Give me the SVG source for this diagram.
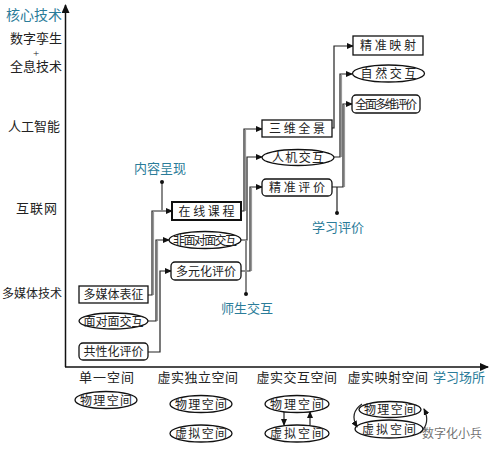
<svg xmlns="http://www.w3.org/2000/svg" width="490" height="455" viewBox="0 0 490 455">
<style>
text{font-family:"Liberation Serif","Noto Sans CJK SC",sans-serif;fill:#222}
.n{font-size:12px;text-anchor:middle}
.ax{font-size:13px;text-anchor:middle}
.lv{font-size:13px;text-anchor:end}
.tl{fill:#2b7c99;font-size:13px;text-anchor:middle}
.box{fill:#fff;stroke:#111;stroke-width:1.3}
.conn{fill:none;stroke:#222;stroke-width:1.2}
.sh{fill:none;stroke:#999;stroke-width:1.2}
.ann{fill:none;stroke:#888;stroke-width:2}
</style>
<defs>
<marker id="ar" markerWidth="7" markerHeight="6" refX="6" refY="3" orient="auto" markerUnits="userSpaceOnUse">
<path d="M0,0 L7,3 L0,6 Z" fill="#111"/>
</marker>
<marker id="ax" markerWidth="9" markerHeight="8" refX="8" refY="4" orient="auto" markerUnits="userSpaceOnUse">
<path d="M0,0 L9,4 L0,8 Z" fill="#111"/>
</marker>
</defs>

<g id="axes">
<path d="M65.5 367 V5" stroke="#111" stroke-width="1.5" fill="none" marker-end="url(#ax)"/>
<path d="M65 367 H488" stroke="#111" stroke-width="1.5" fill="none" marker-end="url(#ax)"/>
<text x="62" y="20" class="lv" style="fill:#2b7c99;font-size:14px">核心技术</text>
<text x="62" y="43" class="lv">数字孪生</text>
<text x="36" y="57" class="ax" style="font-size:11px">+</text>
<text x="62" y="71" class="lv">全息技术</text>
<text x="60" y="131" class="lv">人工智能</text>
<text x="58" y="213" class="lv" letter-spacing="1">互联网</text>
<text x="62" y="298" class="lv" style="font-size:12px">多媒体技术</text>
<text x="107" y="382" class="ax" letter-spacing="1">单一空间</text>
<text x="198" y="382" class="ax" letter-spacing="0.5">虚实独立空间</text>
<text x="297" y="382" class="ax" letter-spacing="0.5">虚实交互空间</text>
<text x="388" y="382" class="ax" letter-spacing="0.5">虚实映射空间</text>
<text x="459" y="382" class="tl">学习场所</text>
</g>

<g id="connectors">
<path class="sh" d="M153.5 295 V212"/>
<path class="conn" d="M148 295 H152 V211 H172" marker-end="url(#ar)"/>
<path class="sh" d="M157.5 321 V241"/>
<path class="conn" d="M148 321 H156 V240 H169" marker-end="url(#ar)"/>
<path class="conn" d="M148 352 H160 V271 H171" marker-end="url(#ar)"/>
<path class="sh" d="M245.5 211 V130"/>
<path class="conn" d="M241 211 H244 V129 H262" marker-end="url(#ar)"/>
<path class="conn" d="M241 240 H247 V157 H262" marker-end="url(#ar)"/>
<path class="sh" d="M251.5 271 V188"/>
<path class="conn" d="M241 271 H250 V187 H262" marker-end="url(#ar)"/>
<path class="conn" d="M332 128 H334 V46 H353" marker-end="url(#ar)"/>
<path class="sh" d="M341.5 157 V75"/>
<path class="conn" d="M334 157 H340 V74 H352" marker-end="url(#ar)"/>
<path class="sh" d="M344.5 187 V105"/>
<path class="conn" d="M332 187 H343 V104 H352" marker-end="url(#ar)"/>
<path class="ann" d="M162 182 V211"/>
<circle cx="162" cy="182" r="2" fill="#111"/>
<path class="ann" d="M246 241 V294"/>
<circle cx="246" cy="294" r="2" fill="#111"/>
<path class="conn" d="M337 187 V213"/>
<circle cx="337" cy="213" r="2" fill="#111"/>
<path class="conn" d="M284 412 V425" marker-end="url(#ar)"/>
<path class="conn" d="M310 425 V412" marker-end="url(#ar)"/>
<path class="conn" d="M362 404 Q349 413 357 427" marker-end="url(#ar)"/>
<path class="conn" d="M420 433 Q431 423 424 409" marker-end="url(#ar)"/>
</g>

<g id="labels">
<text x="160" y="173" class="tl">内容呈现</text>
<text x="247" y="313" class="tl">师生交互</text>
<text x="338" y="232" class="tl">学习评价</text>
</g>

<g id="n1"><rect class="box" x="79" y="286" width="69" height="17"/><text class="n" x="113.5" y="299" textLength="60">多媒体表征</text></g>
<g id="n2"><ellipse class="box" cx="113.5" cy="321" rx="34.5" ry="8"/><text class="n" x="113.5" y="325.5" textLength="60">面对面交互</text></g>
<g id="n3"><rect class="box" x="79" y="343" width="69" height="17" rx="4"/><text class="n" x="113.5" y="356" textLength="60">共性化评价</text></g>
<g id="n4"><rect class="box" style="stroke-width:2" x="172" y="202" width="69" height="18"/><text class="n" x="206.5" y="215.5" textLength="56">在线课程</text></g>
<g id="n5"><ellipse class="box" cx="205" cy="240" rx="36" ry="8.5"/><text class="n" x="205" y="244.5" textLength="64">非面对面交互</text></g>
<g id="n6"><rect class="box" x="171" y="262" width="70" height="18" rx="4"/><text class="n" x="206" y="275.5" textLength="60">多元化评价</text></g>
<g id="n7"><rect class="box" x="262" y="120" width="70" height="17"/><text class="n" x="297" y="133" textLength="56">三维全景</text></g>
<g id="n8"><ellipse class="box" cx="298" cy="157.5" rx="36" ry="8"/><text class="n" x="298" y="162" textLength="52">人机交互</text></g>
<g id="n9"><rect class="box" x="262" y="179" width="70" height="17" rx="4"/><text class="n" x="297" y="192" textLength="56">精准评价</text></g>
<g id="n10"><rect class="box" x="353" y="36" width="70" height="19"/><text class="n" x="388" y="50" textLength="56">精准映射</text></g>
<g id="n11"><ellipse class="box" cx="388.5" cy="73.5" rx="36" ry="8.5"/><text class="n" x="388.5" y="78" textLength="56">自然交互</text></g>
<g id="n12"><rect class="box" x="352" y="95" width="68" height="18" rx="4"/><text class="n" x="386" y="108.5" textLength="62">全面多维评价</text></g>

<g id="s1"><ellipse class="box" cx="106" cy="400" rx="31" ry="8.5"/><text class="n" x="106" y="404.5" textLength="52">物理空间</text></g>
<g id="s2"><ellipse class="box" cx="201" cy="404" rx="31" ry="8.5"/><text class="n" x="201" y="408.5" textLength="52">物理空间</text></g>
<g id="s3"><ellipse class="box" cx="201" cy="433.5" rx="31" ry="8.5"/><text class="n" x="201" y="438" textLength="52">虚拟空间</text></g>
<g id="s4"><ellipse class="box" cx="297" cy="404" rx="32" ry="8.5"/><text class="n" x="297" y="408.5" textLength="54">物理空间</text></g>
<g id="s5"><ellipse class="box" cx="297" cy="433.5" rx="32" ry="8.5"/><text class="n" x="297" y="438" textLength="54">虚拟空间</text></g>
<g id="s7"><ellipse class="box" style="fill:none" cx="389" cy="429" rx="34" ry="9"/><text class="n" x="389" y="433.5" textLength="54">虚拟空间</text></g>
<g id="s6"><ellipse class="box" cx="390" cy="409.5" rx="31" ry="8"/><text class="n" x="390" y="414" textLength="52">物理空间</text></g>

<g id="watermark"><text x="422" y="438" style="font-size:12px;fill:#555;fill-opacity:0.85">数字化小兵</text></g>
</svg>
